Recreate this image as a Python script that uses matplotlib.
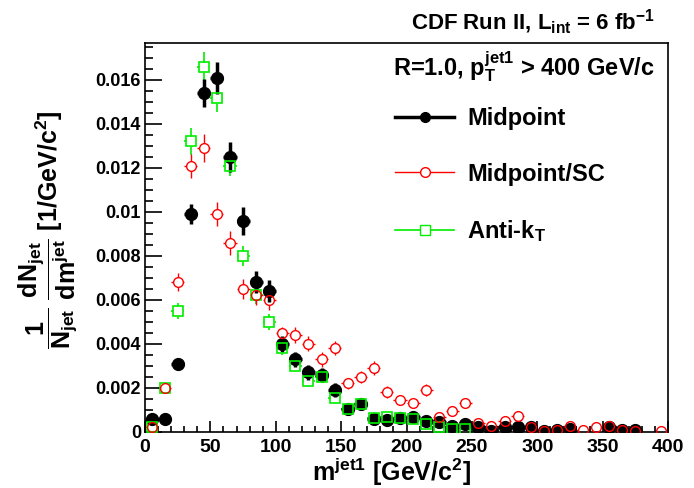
import matplotlib
matplotlib.use("Agg")
import matplotlib.pyplot as plt
from matplotlib.lines import Line2D
from matplotlib.ticker import MultipleLocator

plt.rcParams["font.family"] = ["Liberation Sans", "DejaVu Sans"]
plt.rcParams["font.weight"] = "bold"
plt.rcParams["axes.labelweight"] = "bold"
plt.rcParams["mathtext.fontset"] = "custom"
plt.rcParams["mathtext.rm"] = "Liberation Sans:bold"
plt.rcParams["mathtext.it"] = "Liberation Sans:bold"
plt.rcParams["mathtext.bf"] = "Liberation Sans:bold"
plt.rcParams["mathtext.sf"] = "Liberation Sans:bold"
plt.rcParams["mathtext.default"] = "rm"

# Midpoint (black, filled)
mid_x = [5, 15, 25, 35, 45, 55, 65, 75, 85, 95, 105, 115, 125, 135, 145, 155, 165, 175,
         185, 195, 205, 215, 225, 235, 245, 255, 265, 275, 285, 295, 305, 315, 325,
         355, 365, 375]
mid_y = [0.00059, 0.00059, 0.0031, 0.0099, 0.0154, 0.0161, 0.0125, 0.0096, 0.0068, 0.0064,
         0.0040, 0.0033, 0.0027, 0.0026, 0.0019, 0.00105, 0.00127, 0.00059, 0.00055, 0.00064,
         0.00068, 0.0005, 0.00045, 0.00027, 0.00036, 0.00023, 0.00005, 0.00023, 0.0002,
         0.0002, 0.00005, 0.0001, 0.00014, 0.0002, 0.0001, 0.0001]
mid_err = [0.00014, 0.00014, 0.00018, 0.00045, 0.00064, 0.00073, 0.00068, 0.00064, 0.0005,
           0.0005, 0.00036, 0.00034, 0.00032, 0.00032, 0.00032, 0.00023, 0.00023, 0.00018,
           0.00018, 0.00018, 0.00018, 0.00018, 0.00018, 0.00014, 0.00014, 0.00014, 0.00014,
           0.00014, 0.00014, 0.00009, 0.00009, 0.00009, 0.00009, 0.00009, 0.00009, 0.00009]

# Midpoint/SC (red, open circles)
sc_x = [5, 15, 25, 35, 45, 55, 65, 75, 85, 95, 105, 115, 125, 135, 145, 155, 165, 175,
        185, 195, 205, 215, 225, 235, 245, 255, 265, 275, 285, 295, 305, 315, 325, 335,
        345, 355, 365, 375, 395]
sc_y = [0.0002, 0.0020, 0.0068, 0.0121, 0.0129, 0.0099, 0.0086, 0.0065, 0.0062, 0.0060,
        0.0045, 0.0044, 0.0040, 0.0033, 0.0038, 0.0022, 0.0025, 0.0029, 0.0018, 0.00145,
        0.0013, 0.0019, 0.00068, 0.00095, 0.0013, 0.0004, 0.00027, 0.0005, 0.00073, 0.0002,
        0.00005, 0.0001, 0.00027, 0.0001, 0.0002, 0.00027, 0.0001, 0.00005, 0.00005]
sc_err = [0.00014, 0.00018, 0.0004, 0.00055, 0.00064, 0.00055, 0.00055, 0.00045, 0.00045,
          0.00045, 0.00027, 0.00036, 0.00034, 0.00034, 0.00032, 0.00023, 0.00027, 0.00032,
          0.00027, 0.00023, 0.00023, 0.00027, 0.00018, 0.00018, 0.00023, 0.00014, 0.00014,
          0.00018, 0.00018, 0.00014, 0.00009, 0.00009, 0.00014, 0.00009, 0.00014, 0.00014,
          0.00009, 0.00009, 0.00009]

# Anti-kT (green, open squares)
akt_x = [5, 15, 25, 35, 45, 55, 65, 75, 85, 95, 105, 115, 125, 135, 145, 155, 165, 175,
         185, 195, 205, 215, 225, 235, 245]
akt_y = [0.0002, 0.0020, 0.0055, 0.0132, 0.0166, 0.0152, 0.0121, 0.0080, 0.0062, 0.0050,
         0.0038, 0.0030, 0.0023, 0.0025, 0.00155, 0.00105, 0.00127, 0.00064, 0.00068,
         0.00064, 0.0006, 0.00036, 0.00023, 0.00014, 0.00014]
akt_err = [0.00009, 0.00014, 0.00036, 0.0006, 0.00068, 0.00064, 0.00045, 0.00045, 0.0004,
           0.00036, 0.00032, 0.00027, 0.00027, 0.00027, 0.00023, 0.00018, 0.00018, 0.00014,
           0.00014, 0.00014, 0.00014, 0.00014, 0.00014, 0.00009, 0.00009]

bin_half = 5
RED = "#ff0000"
GREEN = "#00ee00"

fig = plt.figure(figsize=(6.94, 4.88), dpi=100)
ax = fig.add_axes([0.209, 0.115, 0.7535, 0.797])

# error bars of the open-marker series first, then blank out the marker interiors
ax.errorbar(akt_x, akt_y, yerr=akt_err, xerr=bin_half, fmt="none", ecolor=GREEN,
            elinewidth=1.2, capsize=0, zorder=1)
ax.errorbar(sc_x, sc_y, yerr=sc_err, xerr=bin_half, fmt="none", ecolor=RED,
            elinewidth=1.0, capsize=0, zorder=1)
ax.plot(akt_x, akt_y, "s", ms=7, mfc="white", mec="none", zorder=2)
ax.plot(sc_x, sc_y, "o", ms=7, mfc="white", mec="none", zorder=2)

ax.errorbar(mid_x, mid_y, yerr=mid_err, xerr=bin_half, fmt="o", color="black",
            ms=8.5, elinewidth=2.5, capsize=0, zorder=3)

ax.plot(akt_x, akt_y, "s", ms=7, mfc="none", mec=GREEN, mew=1.2, zorder=4)
ax.plot(sc_x, sc_y, "o", ms=7, mfc="none", mec=RED, mew=1.0, zorder=5)

ax.set_xlim(0, 400)
ax.set_ylim(0, 0.01768)
ax.xaxis.set_major_locator(MultipleLocator(50))
ax.xaxis.set_minor_locator(MultipleLocator(10))
ax.yaxis.set_minor_locator(MultipleLocator(0.0005))
ax.set_yticks([0, 0.002, 0.004, 0.006, 0.008, 0.01, 0.012, 0.014, 0.016])
ax.set_yticklabels(["0", "0.002", "0.004", "0.006", "0.008", "0.01", "0.012", "0.014", "0.016"])
ax.tick_params(axis="both", which="both", direction="in", top=False, right=False,
               labelsize=13, width=1.2)
ax.tick_params(axis="x", which="major", length=8, pad=5, labelsize=14)
ax.tick_params(axis="x", which="minor", length=4)
ax.tick_params(axis="y", which="major", length=12, pad=3)
ax.tick_params(axis="y", which="minor", length=6)
for s in ax.spines.values():
    s.set_linewidth(1.2)

ax.set_xlabel(r"m$^{jet1}$ [GeV/c$^{2}$]", fontsize=18, va="top")
ax.xaxis.set_label_coords(0.472, -0.063)
ax.set_ylabel(r"$\dfrac{1}{N_{jet}}\ \dfrac{dN_{jet}}{dm^{jet}}$ [1/GeV/c$^{2}$]", fontsize=18)
ax.yaxis.set_label_coords(-0.125, 0.52)

fig.text(0.944, 0.953, r"CDF Run II, L$_{int}$ = 6 fb$^{-1}$", fontsize=16,
         ha="right", va="center")
ax.text(0.475, 0.94, r"R=1.0, p$_T^{jet1}$ > 400 GeV/c", fontsize=17,
        ha="left", va="center", transform=ax.transAxes)

handles = [
    Line2D([], [], color="black", lw=2.5, marker="o", ms=7),
    Line2D([], [], color=RED, lw=1.0, marker="o", mfc="white", ms=7),
    Line2D([], [], color=GREEN, lw=1.2, marker="s", mfc="white", ms=7),
]
labels = ["Midpoint", "Midpoint/SC", r"Anti-k$_T$"]
ax.legend(handles, labels, loc="upper left", bbox_to_anchor=(0.478, 0.835),
          frameon=False, fontsize=17, handlelength=2.5, handletextpad=0.55,
          labelspacing=1.38, borderpad=0, borderaxespad=0)

fig.savefig("out.png", dpi=100)
